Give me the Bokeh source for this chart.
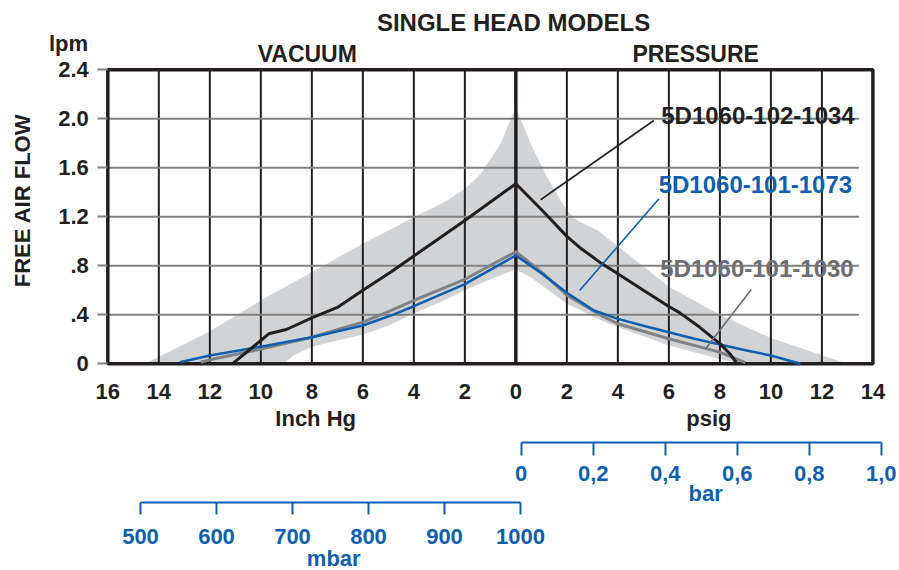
from bokeh.plotting import figure
from bokeh.models import Range1d, LinearAxis, FixedTicker, Label
from bokeh.core.properties import value
from bokeh.embed import file_html
from bokeh.resources import INLINE
import math

# ---------------- data ----------------
x_ticks = [-16, -14, -12, -10, -8, -6, -4, -2, 0, 2, 4, 6, 8, 10, 12, 14]
x_tick_labels = ["16", "14", "12", "10", "8", "6", "4", "2", "0", "2", "4", "6", "8", "10", "12", "14"]
y_ticks = [0, 0.4, 0.8, 1.2, 1.6, 2.0, 2.4]
y_tick_labels = ["0", ".4", ".8", "1.2", "1.6", "2.0", "2.4"]
bar_ticks = [0, 0.2, 0.4, 0.6, 0.8, 1.0]
bar_tick_labels = ["0", "0,2", "0,4", "0,6", "0,8", "1,0"]
mbar_ticks = [500, 600, 700, 800, 900, 1000]
mbar_tick_labels = ["500", "600", "700", "800", "900", "1000"]

# x < 0 : vacuum (inch Hg), x > 0 : pressure (psig); y : free air flow (lpm)
black_x = [-11.12, -10.0, -9.69, -9.0, -8.0, -7.0, -6.0, -4.9, -4.0, -2.0, 0.0, 1.0, 2.0, 2.5, 3.35, 4.0, 5.0, 6.0, 6.4, 7.2, 8.0, 8.4, 8.68]
black_y = [0.0, 0.19, 0.245, 0.28, 0.375, 0.46, 0.60, 0.75, 0.88, 1.17, 1.47, 1.26, 1.04, 0.95, 0.82, 0.735, 0.60, 0.468, 0.42, 0.30, 0.165, 0.08, 0.0]

blue_x = [-13.18, -12.0, -10.0, -8.0, -6.0, -4.9, -4.0, -2.0, 0.0, 1.0, 2.0, 3.06, 4.0, 5.0, 6.0, 7.0, 8.0, 9.0, 10.0, 11.16]
blue_y = [0.013, 0.068, 0.14, 0.217, 0.313, 0.394, 0.47, 0.65, 0.885, 0.74, 0.58, 0.435, 0.367, 0.31, 0.258, 0.205, 0.157, 0.11, 0.068, 0.0]

gray_x = [-12.36, -12.0, -10.0, -8.0, -6.0, -4.9, -4.0, -2.0, 0.0, 1.0, 2.0, 3.35, 4.0, 6.0, 8.0, 9.0]
gray_y = [0.013, 0.033, 0.12, 0.217, 0.34, 0.435, 0.517, 0.69, 0.915, 0.75, 0.56, 0.394, 0.327, 0.204, 0.095, 0.01]

band_upper_x = [-14.55, -12.0, -10.0, -8.0, -6.0, -4.0, -2.69, -2.0, -1.78, -1.38, -0.6, 0.0, 0.58, 1.23, 2.0, 2.41, 3.19, 4.0, 6.0, 8.0, 10.0, 12.0, 13.0]
band_upper_y = [0.0, 0.266, 0.517, 0.748, 0.98, 1.197, 1.333, 1.43, 1.47, 1.55, 1.796, 2.095, 1.796, 1.52, 1.25, 1.17, 1.09, 0.96, 0.63, 0.40, 0.21, 0.07, 0.0]
band_lower_x = [-9.1, -8.7, -8.0, -7.0, -6.0, -5.0, -4.0, -3.0, -2.0, -1.0, 0.0, 0.58, 2.0, 3.35, 4.0, 6.0, 8.0, 8.8]
band_lower_y = [0.0, 0.07, 0.14, 0.19, 0.24, 0.31, 0.41, 0.50, 0.60, 0.69, 0.77, 0.707, 0.49, 0.353, 0.30, 0.15, 0.04, 0.0]

model_names = ["5D1060-102-1034", "5D1060-101-1073", "5D1060-101-1030"]
model_colors = ["#231f20", "#0f5fae", "#6d6e71"]
name_x = [5.7, 5.6, 5.66]
name_y = [2.027, 1.464, 0.776]
leader_x0 = [5.41, 5.61, 9.23]
leader_y0 = [1.986, 1.347, 0.607]
leader_x1 = [0.97, 2.5, 7.44]
leader_y1 = [1.339, 0.598, 0.122]

# ---------------- style ----------------
FONT = "Liberation Sans"
BLACK = "#231f20"
BLUE = "#0f5fae"
GRAY_LINE = "#808285"
GRID_GRAY = "#808080"
BAND = "#d1d3d4"
FS = "22px"

# the frame covers the whole canvas; axes are drawn at fixed locations
p = figure(width=899, height=570,
           x_range=Range1d(-20.208, 15.043), y_range=Range1d(-1.6873, 2.9657),
           x_axis_type=None, y_axis_type=None,
           output_backend="svg", toolbar_location=None,
           min_border_left=0, min_border_right=0, min_border_top=0, min_border_bottom=0)
p.outline_line_color = None
p.background_fill_color = "white"
p.border_fill_color = "white"
p.extra_x_ranges = {"bar": Range1d(-1.4464, 1.0508), "mbar": Range1d(315.79, 1498.68)}


def style_axis(ax, color):
    ax.major_label_text_font = FONT
    ax.major_label_text_font_style = "bold"
    ax.major_label_text_font_size = FS
    ax.major_label_text_color = color
    ax.minor_tick_line_color = None


# shaded envelope
p.patch(band_upper_x + band_lower_x[::-1], band_upper_y + band_lower_y[::-1],
        fill_color=BAND, line_color=None)

# grid
inner_x = [t for t in x_ticks[1:-1] if t != 0]
p.segment(x0=inner_x, y0=[y_ticks[0]] * len(inner_x), x1=inner_x, y1=[y_ticks[-1]] * len(inner_x),
          line_color=BLACK, line_width=2)
p.segment(x0=[x_ticks[0]] * len(y_ticks), y0=y_ticks, x1=[13.45] * len(y_ticks), y1=y_ticks,
          line_color=GRID_GRAY, line_width=2)
p.quad(left=x_ticks[0], right=x_ticks[-1], bottom=y_ticks[0], top=y_ticks[-1],
       fill_color=None, line_color=BLACK, line_width=3.5)
p.segment(x0=[0], y0=[y_ticks[0]], x1=[0], y1=[y_ticks[-1]], line_color=BLACK, line_width=3.5)

# curves
p.line(gray_x, gray_y, line_color=GRAY_LINE, line_width=3, line_join="round")
p.line(blue_x, blue_y, line_color=BLUE, line_width=2.5, line_join="round")
p.line(black_x, black_y, line_color=BLACK, line_width=3, line_join="round")

# leaders + model names
p.segment(x0=leader_x0, y0=leader_y0, x1=leader_x1, y1=leader_y1,
          line_color=model_colors, line_width=1.6)
p.text(x=name_x, y=name_y, text=model_names, text_color=model_colors,
       text_font=value(FONT), text_font_style="bold", text_font_size="24px",
       text_align="left", text_baseline="middle")

# main x axis (inch Hg / psig)
xa = LinearAxis(ticker=FixedTicker(ticks=x_ticks),
                major_label_overrides={t: l for t, l in zip(x_ticks, x_tick_labels)},
                fixed_location=y_ticks[0])
style_axis(xa, BLACK)
xa.axis_line_color = None
xa.major_tick_line_color = None
xa.major_tick_in = 0
xa.major_tick_out = 0
xa.major_label_standoff = 20
p.add_layout(xa, "below")

# bar axis
ba = LinearAxis(x_range_name="bar", ticker=FixedTicker(ticks=bar_ticks),
                major_label_overrides={t: l for t, l in zip(bar_ticks, bar_tick_labels)},
                bounds=(bar_ticks[0], bar_ticks[-1]), fixed_location=-0.645)
style_axis(ba, BLUE)
ba.axis_line_color = BLUE
ba.axis_line_width = 2
ba.major_tick_line_color = BLUE
ba.major_tick_line_width = 2
ba.major_tick_in = 0
ba.major_tick_out = 13
ba.major_label_standoff = 10
p.add_layout(ba, "below")

# mbar axis
ma = LinearAxis(x_range_name="mbar", ticker=FixedTicker(ticks=mbar_ticks),
                major_label_overrides={t: l for t, l in zip(mbar_ticks, mbar_tick_labels)},
                bounds=(mbar_ticks[0], mbar_ticks[-1]), fixed_location=-1.13)
style_axis(ma, BLUE)
ma.axis_line_color = BLUE
ma.axis_line_width = 2
ma.major_tick_line_color = BLUE
ma.major_tick_line_width = 2
ma.major_tick_in = 0
ma.major_tick_out = 12
ma.major_label_standoff = 15
p.add_layout(ma, "below")

# y axis
ya = LinearAxis(ticker=FixedTicker(ticks=y_ticks),
                major_label_overrides={t: l for t, l in zip(y_ticks, y_tick_labels)},
                fixed_location=x_ticks[0])
style_axis(ya, BLACK)
ya.axis_line_color = None
ya.major_tick_line_color = GRID_GRAY
ya.major_tick_line_width = 2
ya.major_tick_in = 0
ya.major_tick_out = 10
ya.major_label_standoff = 9
p.add_layout(ya, "left")


def lab(x, y, txt, color=BLACK, angle=0.0, size=FS):
    p.add_layout(Label(x=x, y=y, text=txt, text_color=color, angle=angle,
                       text_font=FONT, text_font_style="bold", text_font_size=size,
                       text_align="center", text_baseline="middle"))


lab(-0.09, 2.789, "SINGLE HEAD MODELS", size="24px")
lab(-8.18, 2.531, "VACUUM", size="23px")
lab(7.05, 2.531, "PRESSURE", size="23px")
lab(-17.54, 2.615, "lpm")
lab(-19.357, 1.333, "FREE AIR FLOW", angle=math.pi / 2)
lab(-7.85, -0.449, "Inch Hg")
lab(7.57, -0.449, "psig")
lab(7.44, -1.061, "bar", color=BLUE)
lab(-7.14, -1.592, "mbar", color=BLUE)

open("out.html", "w").write(file_html(p, INLINE))
